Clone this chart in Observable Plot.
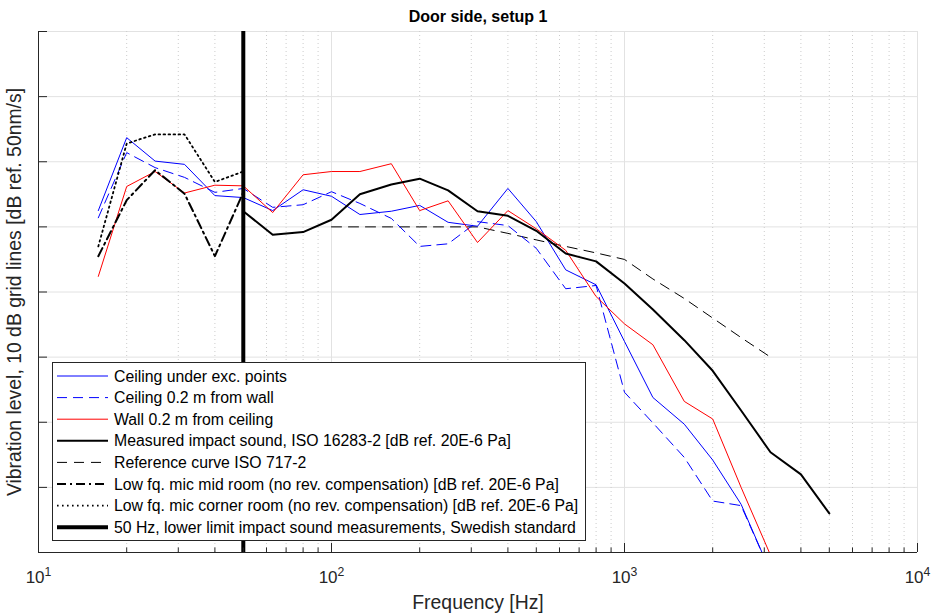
<!DOCTYPE html>
<html><head><meta charset="utf-8">
<script src="https://cdn.jsdelivr.net/npm/d3@7"></script>
<script src="https://cdn.jsdelivr.net/npm/@observablehq/plot@0.6"></script>
<style>
body{margin:0;background:#fff}
svg{font-family:"Liberation Sans",Arial,Helvetica,sans-serif}
</style>
</head><body><div id="chart"></div>
<script>
// Third-octave band centre frequencies [Hz]
const freqs = [16,20,25,31.5,40,50,63,80,100,125,160,200,250,315,400,500,630,800,1000,1250,1600,2000,2500,3150,4000,5000];
// Vibration levels (dB, 10 dB per grid line) 16 Hz .. 3150 Hz
const ceilingExc  = [52.5,63.7,60.1,59.6,54.8,54.5,52.5,55.7,54.7,51.9,52.4,53.3,50.7,50.1,55.9,50.8,43.4,41.1,32.4,23.8,19.7,14.2,7.4,-3];
const ceilingWall = [51.4,61.4,59.1,57.6,55.3,55.9,53.0,53.4,55.4,53.6,51.3,47.0,47.4,50.8,50.2,46.7,40.5,41.0,24.6,19.9,14.6,7.9,7.2,-3];
const wallCeiling = [42.4,56.2,58.5,55.2,56.4,56.3,52.2,58.0,58.5,58.5,59.7,52.5,54.0,47.6,52.5,49.7,46.4,39.3,35.1,31.9,23.2,20.5,10.0,-0.4];
// Measured impact sound 50 Hz .. 5000 Hz
const measuredFreqs = [50,63,80,100,125,160,200,250,315,400,500,630,800,1000,1250,1600,2000,2500,3150,4000,5000];
const measured = [52.4,48.8,49.2,51.1,55.0,56.5,57.4,55.6,52.4,51.7,49.4,45.9,44.7,41.3,37.3,32.6,27.9,21.8,15.4,12.0,6.0];
// Reference curve ISO 717-2 (shifted) 100 Hz .. 3150 Hz
const refFreqs = [100,125,160,200,250,315,400,500,630,800,1000,1250,1600,2000,2500,3150];
const reference = [50,50,50,50,50,50,49,48,47,46,45,42,39,36,33,30];
// Low frequency microphones 16 Hz .. 50 Hz
const lowFreqs = [16,20,25,31.5,40,50];
const micMid = [45.5,54.1,58.7,55.1,45.5,55.3];
const micCorner = [47.0,62.8,64.2,64.2,56.9,58.5];
const limitFreq = [50];

const yTicks = [0,10,20,30,40,50,60,70,80];
const xMajor = [10,100,1000,10000];
const xMinor = [20,30,40,50,60,70,80,90,200,300,400,500,600,700,800,900,2000,3000,4000,5000,6000,7000,8000,9000];

const legendLabels = [
  "Ceiling under exc. points",
  "Ceiling 0.2 m from wall",
  "Wall 0.2 m from ceiling",
  "Measured impact sound, ISO 16283-2 [dB ref. 20E-6 Pa]",
  "Reference curve ISO 717-2",
  "Low fq. mic mid room (no rev. compensation) [dB ref. 20E-6 Pa]",
  "Low fq. mic corner room (no rev. compensation) [dB ref. 20E-6 Pa]",
  "50 Hz, lower limit impact sound measurements, Swedish standard"
];

const zip = (fs, vs) => vs.map((v, i) => ({f: fs[i], v}));

const styles = [
  {stroke: "#0000ff", strokeWidth: 1},
  {stroke: "#0000ff", strokeWidth: 1, strokeDasharray: "10,6"},
  {stroke: "#ff0000", strokeWidth: 1},
  {stroke: "#000000", strokeWidth: 2},
  {stroke: "#000000", strokeWidth: 1, strokeDasharray: "10,7"},
  {stroke: "#000000", strokeWidth: 2, strokeDasharray: "9,4,2,4"},
  {stroke: "#000000", strokeWidth: 1.8, strokeDasharray: "1.6,3.4"},
  {stroke: "#000000", strokeWidth: 4}
];

const axisColor = "#262626";

const plot = Plot.plot({
  width: 933,
  height: 614,
  marginLeft: 38,
  marginRight: 16,
  marginTop: 31,
  marginBottom: 62,
  x: {type: "log", domain: [10, 10000]},
  y: {domain: [0, 80]},
  marks: [
    Plot.ruleY(yTicks, {stroke: "#e2e2e2", strokeWidth: 1}),
    Plot.ruleX(xMinor, {stroke: "#cccccc", strokeWidth: 1, strokeDasharray: "1,3"}),
    Plot.ruleX(xMajor, {stroke: "#e2e2e2", strokeWidth: 1}),
    Plot.line(zip(refFreqs, reference), {x: "f", y: "v", ...styles[4], clip: true}),
    Plot.line(zip(freqs, ceilingWall), {x: "f", y: "v", ...styles[1], clip: true}),
    Plot.line(zip(freqs, ceilingExc), {x: "f", y: "v", ...styles[0], clip: true}),
    Plot.line(zip(freqs, wallCeiling), {x: "f", y: "v", ...styles[2], clip: true}),
    Plot.line(zip(lowFreqs, micMid), {x: "f", y: "v", ...styles[5], clip: true}),
    Plot.line(zip(lowFreqs, micCorner), {x: "f", y: "v", ...styles[6], clip: true}),
    Plot.line(zip(measuredFreqs, measured), {x: "f", y: "v", ...styles[3], clip: true}),
    Plot.ruleX(limitFreq, {...styles[7]}),
    Plot.ruleX([10], {stroke: axisColor, strokeWidth: 1}),
    Plot.ruleY([0], {stroke: axisColor, strokeWidth: 1}),
    Plot.axisY({ticks: yTicks, tickSize: -9, tickFormat: () => "", stroke: axisColor, color: axisColor,
      label: "Vibration level, 10 dB grid lines [dB ref. 50nm/s]", labelAnchor: "center", labelArrow: "none",
      labelOffset: 31, fontSize: 19.4}),
    Plot.axisX({ticks: xMinor, tickSize: -4.5, tickFormat: () => "", stroke: axisColor, label: null}),
    Plot.axisX({ticks: xMajor, tickSize: -9, tickFormat: () => "", stroke: axisColor, color: axisColor,
      label: "Frequency [Hz]", labelAnchor: "center", labelArrow: "none", labelOffset: 56, fontSize: 19.4}),
    Plot.axisX({ticks: xMajor, tickSize: 0, tickPadding: 18, tickFormat: () => "10", color: axisColor,
      label: null, fontSize: 17}),
    Plot.text(["Door side, setup 1"], {frameAnchor: "top", dy: -21, fontWeight: "bold", fontSize: 16, fill: "#000"})
  ]
});

document.getElementById("chart").appendChild(plot);

// superscript exponents on decade tick labels
const svg = d3.select(plot);
const labelTexts = svg.selectAll('g[aria-label="x-axis tick label"] text').nodes();
const lastLabels = labelTexts.slice(-xMajor.length);
lastLabels.forEach((node, i) => {
  d3.select(node).append("tspan")
    .attr("dy", "-0.55em")
    .attr("font-size", "0.72em")
    .text(String(Math.round(Math.log10(xMajor[i]))));
});

// legend
const lg = svg.append("g").attr("class", "legend").attr("text-anchor", "start");
const bx = 52.5, by = 362.5, bw = 533, bh = 178, row0 = 376, rowH = 21.6;
lg.append("rect").attr("x", bx).attr("y", by).attr("width", bw).attr("height", bh)
  .attr("fill", "#fff").attr("stroke", axisColor).attr("stroke-width", 1);
legendLabels.forEach((lab, i) => {
  const s = styles[i];
  const y = row0 + i * rowH;
  lg.append("line").attr("x1", 57).attr("x2", 108).attr("y1", y).attr("y2", y)
    .attr("stroke", s.stroke).attr("stroke-width", s.strokeWidth)
    .attr("stroke-dasharray", s.strokeDasharray || null);
  lg.append("text").attr("x", 114).attr("y", y).attr("dy", "0.35em")
    .attr("text-anchor", "start")
    .attr("font-size", 15.8).attr("fill", "#000").text(lab);
});
</script>
</body></html>
